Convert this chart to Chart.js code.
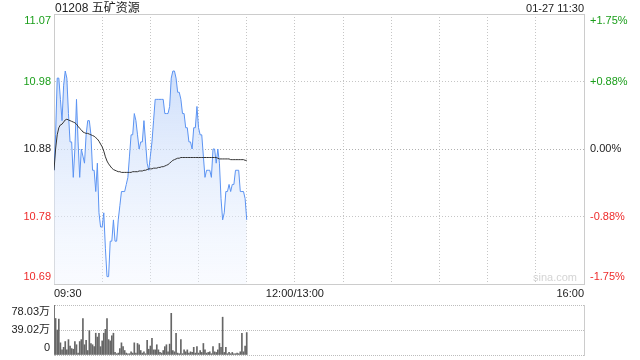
<!DOCTYPE html>
<html>
<head>
<meta charset="utf-8">
<script src="https://cdn.jsdelivr.net/npm/chart.js@4.4.1/dist/chart.umd.min.js"></script>
<style>
  body { margin: 0; background: #fff; }
  #wrap { position: relative; width: 640px; height: 360px; }
  #priceBox { position: absolute; left: 0; top: 0; width: 640px; height: 300px; }
  #volBox { position: absolute; left: 0; top: 300px; width: 640px; height: 60px; }
</style>
</head>
<body>
<div id="wrap">
  <div id="priceBox"><canvas id="price"></canvas></div>
  <div id="volBox"><canvas id="vol"></canvas></div>
</div>
<script>
const stockTitle = '01208 五矿资源';
const stampText = '01-27 11:30';
const watermark = 'sina.com';
const prevClose = 10.88;

const priceTickLabels = ['10.69', '10.78', '10.88', '10.98', '11.07'];
const pctTickLabels = ['-1.75%', '-0.88%', '0.00%', '+0.88%', '+1.75%'];
const pctSteps = [-1.75, -0.875, 0, 0.875, 1.75];
const volTickLabels = ['0', '39.02万', '78.03万'];
const volTickValues = [0, 39.015, 78.03];
const timeLabels = { 0: '09:30', 150: '12:00/13:00', 330: '16:00' };

// one value per minute from 09:30 to 11:30
const priceData = [
  10.85, 10.90, 10.98, 10.98, 10.95, 10.92, 10.97, 10.99, 10.98, 10.93,
  10.89, 10.89, 10.84, 10.88, 10.95, 10.89, 10.84, 10.88, 10.87, 10.86,
  10.90, 10.92, 10.92, 10.90, 10.85, 10.85, 10.82, 10.86, 10.79, 10.77,
  10.77, 10.79, 10.74, 10.70, 10.70, 10.75, 10.75, 10.78, 10.75, 10.75,
  10.78, 10.80, 10.82, 10.82, 10.82, 10.83, 10.84, 10.87, 10.90, 10.90,
  10.93, 10.92, 10.90, 10.88, 10.89, 10.89, 10.92, 10.89, 10.86, 10.85,
  10.87, 10.89, 10.92, 10.95, 10.95, 10.95, 10.95, 10.95, 10.95, 10.93,
  10.93, 10.93, 10.94, 10.98, 10.99, 10.99, 10.98, 10.96, 10.96, 10.95,
  10.93, 10.93, 10.91, 10.91, 10.89, 10.89, 10.88, 10.91, 10.91, 10.94,
  10.91, 10.90, 10.90, 10.87, 10.84, 10.85, 10.85, 10.85, 10.84, 10.88,
  10.88, 10.86, 10.88, 10.86, 10.81, 10.78, 10.79, 10.82, 10.82, 10.83,
  10.82, 10.83, 10.83, 10.85, 10.85, 10.85, 10.82, 10.82, 10.82, 10.81,
  10.78
];

const avgData = [
  10.85, 10.88, 10.90, 10.91, 10.914, 10.915, 10.918, 10.921, 10.922, 10.921,
  10.92, 10.919, 10.918, 10.917, 10.915, 10.912, 10.909, 10.907, 10.904, 10.903,
  10.902, 10.902, 10.901, 10.90, 10.899, 10.898, 10.896, 10.894, 10.891, 10.887,
  10.883, 10.877, 10.869, 10.863, 10.859, 10.856, 10.853, 10.851, 10.85, 10.849,
  10.848, 10.848, 10.847, 10.847, 10.847, 10.847, 10.847, 10.847, 10.847, 10.848,
  10.848, 10.848, 10.848, 10.849, 10.849, 10.849, 10.85, 10.85, 10.851, 10.852,
  10.852, 10.852, 10.853, 10.853, 10.853, 10.854, 10.854, 10.855, 10.855, 10.856,
  10.857, 10.858, 10.86, 10.862, 10.864, 10.865, 10.866, 10.867, 10.867, 10.868,
  10.868, 10.868, 10.868, 10.868, 10.868, 10.868, 10.868, 10.868, 10.868, 10.868,
  10.868, 10.868, 10.868, 10.868, 10.868, 10.868, 10.868, 10.868, 10.868, 10.868,
  10.868, 10.868, 10.867, 10.866, 10.866, 10.866, 10.866, 10.866, 10.866, 10.866,
  10.865, 10.865, 10.865, 10.865, 10.865, 10.865, 10.865, 10.865, 10.865, 10.864,
  10.864
];

// volume in 万
const volumeData = [
  78.03, 57, 39, 56, 19, 8, 12, 21, 8, 24,
  14, 10, 9, 21, 16, 3, 21, 24, 57, 16,
  23, 7, 38, 18, 16, 13, 34, 28, 34, 13,
  22, 34, 40, 57, 24, 22, 30, 34, 4, 2,
  3, 10, 19, 13, 7, 3, 2, 2, 5, 3,
  19, 3, 18, 16, 7, 3, 5, 2, 23, 9,
  14, 26, 8, 8, 16, 8, 4, 3, 7, 13,
  16, 5, 17, 65, 7, 5, 34, 3, 2, 24,
  2, 8, 5, 8, 3, 5, 4, 12, 3, 13,
  3, 7, 4, 18, 8, 3, 4, 5, 2, 13,
  5, 4, 8, 18, 12, 59, 4, 12, 2, 4,
  2, 4, 2, 2, 3, 2, 5, 34, 5, 14,
  35
];

const green = '#1a9e1a';
const red = '#ee2b2b';
const tickColors = [red, red, '#222', green, green];
const fontFamily = '"Liberation Sans", Arial, "Noto Sans CJK SC", sans-serif';
const dotColor = '#c6c6c6';

Chart.defaults.font.family = fontFamily;
Chart.defaults.font.size = 11;
Chart.defaults.color = '#222';

const yMin = prevClose * (1 + pctSteps[0] / 100);
const yMax = prevClose * (1 + pctSteps[4] / 100);
const priceTickValues = pctSteps.map(p => prevClose * (1 + p / 100));

function toPoints(arr) {
    return arr.map((v, i) => ({ x: i, y: v }));
}

// first and last labels are pushed inside the plot
function edgeLabel(text, index, last) {
    if (index === 0) return [text, ''];
    if (index === last) return ['', text];
    return text;
}

// fixed axis size, no extra padding asked from the layout
function fixSize(w, h) {
    return function(scale) {
        if (w !== null) scale.width = w;
        if (h !== null) scale.height = h;
        scale.paddingTop = 0;
        scale.paddingBottom = 0;
        scale.paddingLeft = 0;
        scale.paddingRight = 0;
    };
}

function fillGradient(context) {
    const area = context.chart.chartArea;
    if (!area) return 'rgba(210,225,250,0.6)';
    const g = context.chart.ctx.createLinearGradient(0, area.top, 0, area.bottom);
    g.addColorStop(0, 'rgba(186,209,248,0.95)');
    g.addColorStop(1, 'rgba(238,244,255,0.35)');
    return g;
}

const textPlugin = {
    id: 'texts',
    afterDraw: function(chart) {
        const ctx = chart.ctx;
        const area = chart.chartArea;
        ctx.save();
        ctx.textBaseline = 'middle';
        ctx.fillStyle = '#222';
        ctx.font = '12px ' + fontFamily;
        ctx.textAlign = 'left';
        ctx.fillText(stockTitle, area.left + 1, 9);
        ctx.font = '11px ' + fontFamily;
        ctx.textAlign = 'right';
        ctx.fillText(stampText, area.right, 9);
        ctx.fillStyle = '#d4d4d4';
        ctx.fillText(watermark, area.right - 7, area.bottom - 6);
        ctx.restore();
    }
};

new Chart(document.getElementById('price'), {
    type: 'line',
    data: {
        datasets: [{
            data: toPoints(avgData),
            borderColor: '#333',
            borderWidth: 1,
            pointRadius: 0,
            fill: false
        }, {
            data: toPoints(priceData),
            borderColor: '#5b93f2',
            borderWidth: 1,
            pointRadius: 0,
            fill: 'start',
            backgroundColor: fillGradient
        }]
    },
    options: {
        responsive: true,
        maintainAspectRatio: false,
        animation: false,
        layout: { padding: { top: 14 } },
        plugins: { legend: { display: false }, tooltip: { enabled: false } },
        scales: {
            x: {
                type: 'linear',
                min: 0,
                max: 330,
                afterBuildTicks: function(scale) {
                    const t = [];
                    for (let v = 0; v <= 330; v += 30) t.push({ value: v });
                    scale.ticks = t;
                },
                afterFit: fixSize(null, 16),
                grid: { color: dotColor, drawTicks: false },
                border: { color: '#cccccc', dash: [1, 2] },
                ticks: {
                    align: 'inner',
                    autoSkip: false,
                    maxRotation: 0,
                    padding: 3,
                    callback: function(value) { return timeLabels[value] || ''; }
                }
            },
            xTop: {
                type: 'linear',
                position: 'top',
                afterFit: fixSize(null, 0),
                grid: { display: false },
                border: { color: '#cccccc' },
                ticks: { display: false }
            },
            y: {
                position: 'left',
                min: yMin,
                max: yMax,
                afterBuildTicks: function(scale) {
                    scale.ticks = priceTickValues.map(v => ({ value: v }));
                },
                afterFit: fixSize(54, null),
                grid: {
                    color: function(c) { return c.index === 2 ? '#b0b0b0' : dotColor; },
                    drawTicks: false
                },
                border: { color: '#cccccc', dash: [1, 2] },
                ticks: {
                    padding: 3,
                    autoSkip: false,
                    color: function(c) { return tickColors[c.index]; },
                    callback: function(value, index) { return edgeLabel(priceTickLabels[index], index, 4); }
                }
            },
            y2: {
                position: 'right',
                min: yMin,
                max: yMax,
                afterBuildTicks: function(scale) {
                    scale.ticks = priceTickValues.map(v => ({ value: v }));
                },
                afterFit: fixSize(56, null),
                grid: { display: false, drawTicks: false },
                border: { color: '#cccccc' },
                ticks: {
                    padding: 6,
                    autoSkip: false,
                    color: function(c) { return tickColors[c.index]; },
                    callback: function(value, index) { return edgeLabel(pctTickLabels[index], index, 4); }
                }
            }
        }
    },
    plugins: [textPlugin]
});

new Chart(document.getElementById('vol'), {
    type: 'bar',
    data: {
        datasets: [{
            data: toPoints(volumeData),
            backgroundColor: '#666666',
            barThickness: 1,
            grouped: false
        }]
    },
    options: {
        responsive: true,
        maintainAspectRatio: false,
        animation: false,
        layout: { padding: { top: 5 } },
        plugins: { legend: { display: false }, tooltip: { enabled: false } },
        scales: {
            x: {
                type: 'linear',
                min: 0,
                max: 330,
                offset: false,
                afterFit: fixSize(null, 5),
                grid: { display: false, drawTicks: false },
                border: { display: false },
                ticks: { display: false }
            },
            y: {
                position: 'left',
                min: 0,
                max: 78.03,
                afterBuildTicks: function(scale) {
                    scale.ticks = volTickValues.map(v => ({ value: v }));
                },
                afterFit: fixSize(54, null),
                grid: { color: '#bdbdbd', drawTicks: false },
                border: { color: '#cccccc', dash: [1, 1] },
                ticks: {
                    padding: 4,
                    autoSkip: false,
                    callback: function(value, index) { return edgeLabel(volTickLabels[index], index, 2); }
                }
            },
            yR: {
                position: 'right',
                min: 0,
                max: 78.03,
                afterFit: fixSize(56, null),
                grid: { display: false, drawTicks: false },
                border: { color: '#cccccc' },
                ticks: { display: false }
            }
        }
    }
});
</script>
</body>
</html>
